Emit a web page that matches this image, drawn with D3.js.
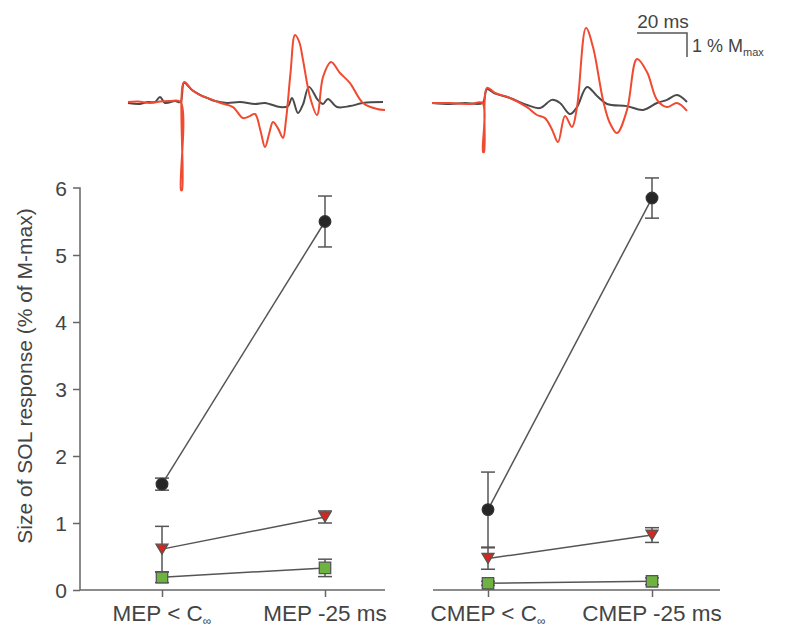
<!DOCTYPE html>
<html><head><meta charset="utf-8">
<script src="https://cdn.jsdelivr.net/npm/d3@7"></script>
<style>
html,body{margin:0;padding:0;background:#fff;}
svg{display:block;font-family:"Liberation Sans",Arial,sans-serif;}
</style></head>
<body>
<svg id="chart" width="785" height="627"></svg>
<script>
// ---------------- DATA ----------------
const yTicks = [0, 1, 2, 3, 4, 5, 6];
const yTitle = "Size of SOL response (% of M-max)";
const categoriesLeft = ["MEP < C_∞", "MEP -25 ms"];
const categoriesRight = ["CMEP < C_∞", "CMEP -25 ms"];

// mean values (% of M-max) and error half-widths
const leftCircle = [1.58, 5.50];
const leftCircleErr = [0.09, 0.38];
const leftTriangle = [0.61, 1.09];
const leftTriangleErr = [0.34, 0.09];
const leftSquare = [0.19, 0.33];
const leftSquareErr = [0.08, 0.13];

const rightCircle = [1.20, 5.85];
const rightCircleErr = [0.56, 0.30];
const rightTriangle = [0.47, 0.82];
const rightTriangleErr = [0.16, 0.11];
const rightSquare = [0.10, 0.13];
const rightSquareErr = [0.03, 0.05];

// EMG traces: [time (ms), amplitude (% Mmax)]
const leftRedTrace = [[0,0],[4,0.02],[8.8,-0.04],[12.8,0.02],[16.8,0.04],[21,0],[21.2,-3.67],[21.6,-3.67],[22.4,0.83],[25.6,0.5],[28.8,0.29],[32.8,0.13],[37,-0.04],[42,-0.21],[46,-0.67],[48.5,-0.6],[50.8,-0.5],[53,-1.2],[54.8,-1.88],[56.5,-1.3],[58,-0.83],[60,-1.1],[62,-1.5],[63.2,-0.75],[65,1.2],[66.8,2.79],[68.5,2.5],[70,1.75],[72.8,0.21],[75.6,-0.54],[78,1.04],[81.2,1.67],[84.8,1.21],[88.8,0.79],[94,-0.04],[99.6,-0.29],[102.8,-0.33]];
const leftBlackTrace = [[0,-0.04],[4.8,-0.08],[8,0],[10.8,0],[12.8,0.21],[14.8,-0.04],[18.8,0.04],[21,0],[22.4,0.8],[25.6,0.5],[28.8,0.3],[31.6,0.17],[34.8,0.04],[39.6,-0.04],[44.8,0],[50.8,-0.08],[54.8,-0.04],[60.8,-0.21],[64,-0.17],[65.6,0.17],[68,-0.46],[70,-0.1],[72.4,0.63],[76,0.08],[78,-0.08],[80,0.13],[83.6,-0.21],[88.8,-0.17],[94,-0.04],[102,0]];
const rightRedTrace = [[0,0],[7.2,0],[15.2,-0.04],[20.2,0],[20.4,-2.04],[20.8,-2.04],[22,0.63],[25.2,0.42],[31.2,0.21],[38,-0.17],[42,-0.5],[45.2,-0.63],[48,-1.1],[50.4,-1.63],[53.2,-0.54],[56,-1.0],[58,-0.17],[61.6,3.13],[64.4,2.33],[68.4,0.13],[71,-0.8],[74,-1.25],[78,-0.29],[82,1.83],[86,1.29],[90,0.13],[94,-0.17],[98,0],[102,-0.33]];
const rightBlackTrace = [[0,0],[7.2,-0.04],[13.2,0],[20.2,0],[22,0.58],[25,0.4],[31.2,0.21],[38,-0.08],[43.2,-0.21],[48,0.13],[51.2,0],[55.2,-0.46],[58,-0.17],[62,0.67],[66,0.29],[70,-0.04],[78,-0.13],[84.4,-0.29],[90,0],[94,0.13],[98,0.33],[102,0.04]];

const scaleBarMs = 20;
const scaleBarAmp = 1;

// ---------------- DRAW ----------------
const svg = d3.select("#chart");
const txtCol = "#444", axCol = "#666";

const y = d3.scaleLinear().domain([0, 6]).range([590, 188]);

// y axis
const yAxis = d3.axisLeft(y).tickValues(yTicks).tickSize(7).tickPadding(6).tickFormat(d3.format("d"));
const gy = svg.append("g").attr("transform", "translate(80,0)").call(yAxis);
gy.select(".domain").attr("stroke", axCol).attr("stroke-width", 1.5).attr("d", `M-7,${y(6)}H0V${y(0)}`);
gy.selectAll(".tick line").attr("stroke", axCol).attr("stroke-width", 1.5);
gy.selectAll(".tick text").attr("fill", txtCol).attr("font-size", 21).attr("dy", "0.36em");
gy.selectAll(".tick").filter(d => d === 6).select("line").remove();

svg.append("text")
  .attr("transform", `translate(32,${(y(0) + y(6)) / 2 - 13}) rotate(-90)`)
  .attr("text-anchor", "middle").attr("fill", txtCol).attr("font-size", 21)
  .text(yTitle);

function panel(cats, xRange, axisX0, axisX1, series) {
  const x = d3.scalePoint().domain(cats).range(xRange);
  const g = svg.append("g");
  g.append("line").attr("x1", axisX0).attr("x2", axisX1).attr("y1", y(0)).attr("y2", y(0))
    .attr("stroke", axCol).attr("stroke-width", 1.5);
  const xAxis = d3.axisBottom(x).tickSize(7).tickFormat("");
  const gx = g.append("g").attr("transform", `translate(0,${y(0)})`).call(xAxis);
  gx.select(".domain").remove();
  gx.selectAll(".tick line").attr("stroke", axCol).attr("stroke-width", 1.5);
  cats.forEach(c => {
    const parts = c.split("_");
    const t = g.append("text").attr("x", x(c)).attr("y", 621).attr("text-anchor", "middle")
      .attr("fill", txtCol).attr("font-size", 22.5);
    t.append("tspan").text(parts[0]);
    if (parts[1]) t.append("tspan").attr("font-size", 12).attr("dy", 4).text(parts[1]);
  });
  series.forEach(s => {
    const pts = s.vals.map((v, i) => ({x: x(cats[i]), v, e: s.err[i]}));
    g.append("path").datum(pts)
      .attr("d", d3.line().x(d => d.x).y(d => y(d.v)))
      .attr("fill", "none").attr("stroke", "#555").attr("stroke-width", 1.5);
    pts.forEach(p => {
      const eb = g.append("g").attr("stroke", "#555").attr("stroke-width", 1.5);
      eb.append("line").attr("x1", p.x).attr("x2", p.x).attr("y1", y(p.v - p.e)).attr("y2", y(p.v + p.e));
      [p.v - p.e, p.v + p.e].forEach(v => eb.append("line").attr("x1", p.x - 7).attr("x2", p.x + 7).attr("y1", y(v)).attr("y2", y(v)));
    });
    g.selectAll(null).data(pts).enter().append("path")
      .attr("transform", d => `translate(${d.x},${y(d.v)})`)
      .attr("d", s.symbol)
      .attr("fill", s.fill).attr("stroke", s.stroke).attr("stroke-width", 1.3);
  });
}

const circ = d3.symbol().type(d3.symbolCircle).size(Math.PI * 5.8 * 5.8)();
const sq = d3.symbol().type(d3.symbolSquare).size(130)();
const tri = "M-6,-5L6,-5L0,5Z";

panel(categoriesLeft, [162, 325], 80, 385, [
  {vals: leftSquare, err: leftSquareErr, symbol: sq, fill: "#6db33f", stroke: "#555"},
  {vals: leftTriangle, err: leftTriangleErr, symbol: tri, fill: "#d8261e", stroke: "#555"},
  {vals: leftCircle, err: leftCircleErr, symbol: circ, fill: "#262626", stroke: "#333"}
]);
panel(categoriesRight, [488, 652], 433, 720, [
  {vals: rightSquare, err: rightSquareErr, symbol: sq, fill: "#6db33f", stroke: "#555"},
  {vals: rightTriangle, err: rightTriangleErr, symbol: tri, fill: "#d8261e", stroke: "#555"},
  {vals: rightCircle, err: rightCircleErr, symbol: circ, fill: "#262626", stroke: "#333"}
]);

// ---------------- TRACES ----------------
const pxPerMs = 2.5, pxPerAmp = 24;
function traces(x0, y0, black, red) {
  const tx = d3.scaleLinear().domain([0, 1]).range([x0, x0 + pxPerMs]);
  const ty = d3.scaleLinear().domain([0, 1]).range([y0, y0 - pxPerAmp]);
  const line = d3.line().x(d => tx(d[0])).y(d => ty(d[1])).curve(d3.curveCatmullRom.alpha(0.5));
  svg.append("path").datum(black).attr("d", line).attr("fill", "none")
    .attr("stroke", "#4a4a4a").attr("stroke-width", 2).attr("stroke-linejoin", "round");
  svg.append("path").datum(red).attr("d", line).attr("fill", "none")
    .attr("stroke", "#f04a30").attr("stroke-width", 2).attr("stroke-linejoin", "round");
}
traces(128, 102, leftBlackTrace, leftRedTrace);
traces(432, 103, rightBlackTrace, rightRedTrace);

// scale bar
const sbx = d3.scaleLinear().domain([0, 1]).range([0, pxPerMs]);
const sby = d3.scaleLinear().domain([0, 1]).range([0, pxPerAmp]);
const bx1 = 687, by0 = 33;
svg.append("path")
  .attr("d", `M${bx1 - sbx(scaleBarMs)},${by0}H${bx1}V${by0 + sby(scaleBarAmp)}`)
  .attr("fill", "none").attr("stroke", "#555").attr("stroke-width", 1.5);
svg.append("text").attr("x", bx1 - sbx(scaleBarMs) / 2 + 1).attr("y", 28).attr("text-anchor", "middle")
  .attr("fill", txtCol).attr("font-size", 19).text(`${scaleBarMs} ms`);
const amp = svg.append("text").attr("x", 692).attr("y", 52).attr("fill", txtCol).attr("font-size", 18);
amp.append("tspan").text(`${scaleBarAmp} % M`);
amp.append("tspan").attr("font-size", 11).attr("dy", 4).text("max");
</script>
</body></html>
